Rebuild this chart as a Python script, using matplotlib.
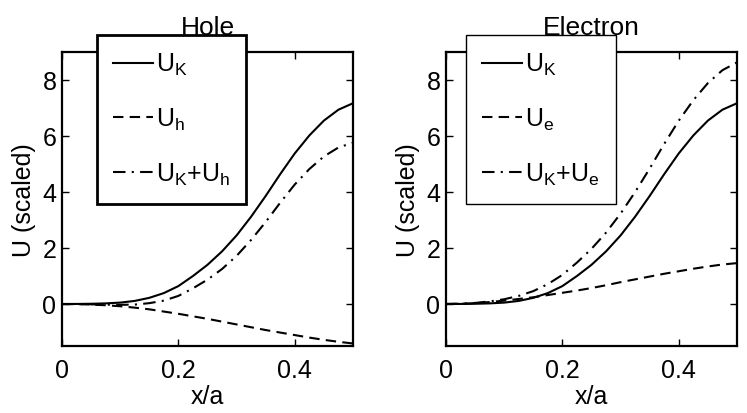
import numpy as np
import matplotlib
matplotlib.use("Agg")
import matplotlib.pyplot as plt

plt.rcParams['font.family'] = ['Liberation Sans', 'DejaVu Sans']
plt.rcParams['mathtext.fontset'] = 'custom'
plt.rcParams['mathtext.rm'] = 'Liberation Sans'

x = [0, 0.025, 0.05, 0.075, 0.1, 0.125, 0.15, 0.175, 0.2, 0.225, 0.25,
     0.275, 0.3, 0.325, 0.35, 0.375, 0.4, 0.425, 0.45, 0.475, 0.5]

# kinetic part (same in both panels)
U_K = [0, 0.002, 0.008, 0.022, 0.05, 0.11, 0.22, 0.39, 0.64, 1.0, 1.40,
       1.88, 2.45, 3.12, 3.86, 4.64, 5.38, 6.02, 6.55, 6.94, 7.17]

# hole
U_h = [0, -0.005, -0.02, -0.045, -0.08, -0.13, -0.19, -0.27, -0.35, -0.44, -0.53,
       -0.63, -0.73, -0.83, -0.93, -1.02, -1.11, -1.2, -1.28, -1.35, -1.41]
U_Kh = [0, -0.003, -0.012, -0.023, -0.03, -0.02, 0.03, 0.12, 0.29, 0.56, 0.87,
        1.25, 1.72, 2.29, 2.93, 3.62, 4.27, 4.82, 5.27, 5.59, 5.76]

# electron
U_e = [0, 0.008, 0.03, 0.07, 0.12, 0.18, 0.24, 0.32, 0.4, 0.48, 0.57,
       0.67, 0.78, 0.88, 0.98, 1.08, 1.17, 1.26, 1.34, 1.41, 1.46]
U_Ke = [0, 0.01, 0.038, 0.092, 0.17, 0.29, 0.46, 0.71, 1.04, 1.48, 1.97,
        2.55, 3.23, 4.0, 4.84, 5.72, 6.55, 7.28, 7.89, 8.35, 8.63]

panels = [("Hole", U_h, U_Kh, "h", 2.0, 97),
          ("Electron", U_e, U_Ke, "e", 1.0, 466)]

fig = plt.figure(figsize=(7.47, 4.14), dpi=100)
lefts = [62 / 747, 446 / 747]

for (title, U_p, U_sum, sub, frame_lw, leg_px), left in zip(panels, lefts):
    ax = fig.add_axes([left, 1 - 347 / 414, 291 / 747, 294 / 414])
    ax.plot(x, U_K, color='black', lw=1.5, label=r'$\mathregular{U_K}$')
    ax.plot(x, U_p, color='black', lw=1.5, dashes=(5, 3),
            label=r'$\mathregular{U_%s}$' % sub)
    ax.plot(x, U_sum, color='black', lw=1.5, dashes=(6, 3, 1, 3),
            label=r'$\mathregular{U_K}$+$\mathregular{U_%s}$' % sub)
    ax.set_xlim(0, 0.5)
    ax.set_ylim(-1.5, 9)
    ax.set_xticks([0, 0.2, 0.4])
    ax.set_xticklabels(['0', '0.2', '0.4'])
    ax.set_yticks([0, 2, 4, 6, 8])
    ax.tick_params(direction='in', top=True, right=True, length=5, width=1,
                   labelsize=18)
    ax.tick_params(axis='x', pad=9)
    ax.tick_params(axis='y', pad=4)
    for s in ax.spines.values():
        s.set_linewidth(1.6)
    ax.set_title(title, fontsize=19, pad=13)
    ax.set_xlabel('x/a', fontsize=18, labelpad=1)
    ax.set_ylabel('U (scaled)', fontsize=18, labelpad=5)
    leg = ax.legend(loc='upper left', bbox_to_anchor=(leg_px / 747, 1 - 36 / 414),
                    bbox_transform=fig.transFigure, borderaxespad=0,
                    fontsize=18, fancybox=False, framealpha=1,
                    edgecolor='black', handlelength=1.6, handletextpad=0.1,
                    labelspacing=1.15, borderpad=0.65)
    leg.get_frame().set_linewidth(frame_lw)
    leg.set_zorder(5)

plt.savefig('out.png', dpi=100)
